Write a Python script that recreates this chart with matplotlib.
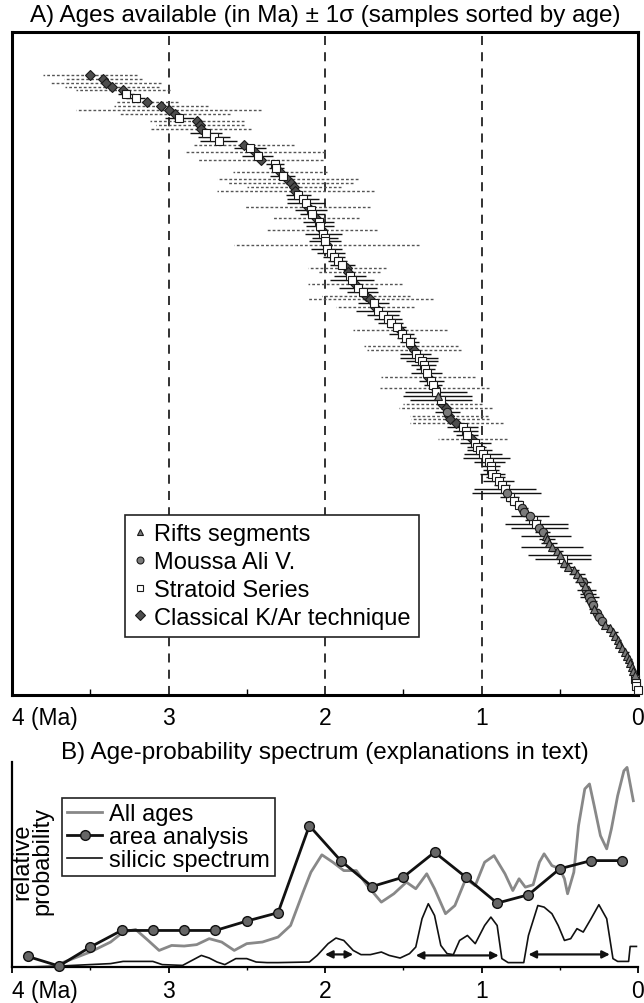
import numpy as np
import matplotlib
matplotlib.use("Agg")
import matplotlib.pyplot as plt
from matplotlib.lines import Line2D

plt.rcParams['font.family'] = ['Liberation Sans', 'DejaVu Sans']

# ---- panel A : sample ages (Ma), 1 sigma, dataset code, oldest first ----
ages = [
    3.50, 3.42, 3.40, 3.36, 3.29, 3.27, 3.21, 3.14, 3.05, 3.00,
    2.96, 2.93, 2.82, 2.80, 2.79, 2.76, 2.71, 2.68, 2.52, 2.48,
    2.45, 2.43, 2.41, 2.32, 2.31, 2.29, 2.27, 2.24, 2.22, 2.20,
    2.19, 2.17, 2.14, 2.12, 2.11, 2.09, 2.08, 2.06, 2.04, 2.03,
    2.02, 2.01, 2.00, 2.00, 1.99, 1.99, 1.96, 1.94, 1.92, 1.89,
    1.86, 1.85, 1.84, 1.83, 1.81, 1.79, 1.76, 1.74, 1.71, 1.69,
    1.68, 1.66, 1.63, 1.60, 1.58, 1.54, 1.52, 1.51, 1.48, 1.46,
    1.45, 1.43, 1.42, 1.40, 1.38, 1.37, 1.36, 1.35, 1.34, 1.32,
    1.31, 1.30, 1.29, 1.28, 1.26, 1.25, 1.23, 1.22, 1.21, 1.20,
    1.16, 1.12, 1.10, 1.09, 1.06, 1.04, 1.03, 1.01, 0.99, 0.97,
    0.95, 0.94, 0.94, 0.93, 0.91, 0.89, 0.87, 0.85, 0.84, 0.82,
    0.79, 0.76, 0.74, 0.73, 0.69, 0.67, 0.65, 0.63, 0.61, 0.59,
    0.58, 0.57, 0.55, 0.52, 0.50, 0.48, 0.47, 0.45, 0.41, 0.39,
    0.37, 0.35, 0.34, 0.33, 0.32, 0.31, 0.30, 0.29, 0.28, 0.26,
    0.25, 0.23, 0.21, 0.18, 0.16, 0.15, 0.13, 0.12, 0.10, 0.08,
    0.07, 0.06, 0.05, 0.04, 0.03, 0.02, 0.02, 0.01, 0.01, 0.00,
]
errs = [
    0.30, 0.25, 0.35, 0.30, 0.30, 0.05, 0.06, 0.20, 0.30, 0.59,
    0.35, 0.09, 0.30, 0.28, 0.32, 0.10, 0.10, 0.12, 0.32, 0.10,
    0.45, 0.10, 0.40, 0.06, 0.05, 0.30, 0.08, 0.45, 0.40, 0.30,
    0.50, 0.08, 0.10, 0.12, 0.40, 0.10, 0.08, 0.28, 0.10, 0.09,
    0.35, 0.12, 0.08, 0.10, 0.59, 0.10, 0.09, 0.07, 0.06, 0.08,
    0.25, 0.20, 0.10, 0.14, 0.30, 0.12, 0.10, 0.28, 0.40, 0.10,
    0.25, 0.14, 0.10, 0.09, 0.08, 0.06, 0.30, 0.08, 0.06, 0.06,
    0.30, 0.30, 0.10, 0.12, 0.10, 0.08, 0.06, 0.10, 0.30, 0.08,
    0.06, 0.35, 0.20, 0.22, 0.20, 0.25, 0.30, 0.08, 0.25, 0.25,
    0.30, 0.10, 0.08, 0.07, 0.22, 0.10, 0.06, 0.08, 0.12, 0.15,
    0.10, 0.06, 0.05, 0.08, 0.06, 0.10, 0.05, 0.20, 0.22, 0.06,
    0.05, 0.04, 0.04, 0.03, 0.12, 0.05, 0.20, 0.18, 0.05, 0.16,
    0.05, 0.05, 0.20, 0.04, 0.20, 0.18, 0.05, 0.04, 0.03, 0.05,
    0.04, 0.05, 0.03, 0.06, 0.05, 0.06, 0.04, 0.03, 0.03, 0.02,
    0.03, 0.02, 0.03, 0.02, 0.03, 0.02, 0.02, 0.02, 0.02, 0.02,
    0.02, 0.02, 0.01, 0.01, 0.01, 0.01, 0.01, 0.01, 0.01, 0.01,
]
# T = rifts segments, C = Moussa Ali, S = Stratoid, D = classical K/Ar
types = list(
    "DDDDDSSDDD" "DSDDDSSSDS" "DSDSSDSDDD" "DSSSDSSDSS"
    "DSSSDSSSSS" "DDSSDSSDDS" "DSSSSSDSSS" "DDSSSSSSDS"
    "SDSTSDDCDD" "DSSSDSSSSS" "SSSSSSSSCS" "SSCCCSSCCT"
    "TTTTTSTTTT" "TCTCCCCCTC" "CCTTTTTTTT" "TTTTTTSSSS"
)

series = {
    'T': ('Rifts segments', '^', '#7a7a7a', 6.0),
    'C': ('Moussa Ali V.', 'o', '#7a7a7a', 6.0),
    'S': ('Stratoid Series', 's', 'white', 6.0),
    'D': ('Classical K/Ar technique', 'D', '#4d4d4d', 5.5),
}

# ---- panel B : spectra (Ma, relative probability) ----
area_age = [3.9, 3.7, 3.5, 3.3, 3.1, 2.9, 2.7, 2.5, 2.3, 2.1,
            1.9, 1.7, 1.5, 1.3, 1.1, 0.9, 0.7, 0.5, 0.3, 0.1]
area_prob = [0.053, 0.005, 0.10, 0.183, 0.183, 0.183, 0.183, 0.23, 0.272, 0.708,
             0.533, 0.403, 0.45, 0.575, 0.45, 0.32, 0.362, 0.492, 0.533, 0.533]

all_age = [3.71, 3.50, 3.37, 3.29, 3.21, 3.13, 3.06, 2.98, 2.90, 2.82,
           2.74, 2.66, 2.58, 2.50, 2.40, 2.30, 2.22, 2.14, 2.09, 2.02,
           1.95, 1.88, 1.80, 1.73, 1.64, 1.56, 1.48, 1.42, 1.35, 1.30,
           1.23, 1.17, 1.10, 1.04, 0.98, 0.92, 0.85, 0.80, 0.76, 0.72,
           0.67, 0.63, 0.60, 0.55, 0.50, 0.47, 0.45, 0.41, 0.38, 0.34,
           0.31, 0.28, 0.24, 0.20, 0.17, 0.13, 0.09, 0.07, 0.03]
all_prob = [0.012, 0.075, 0.125, 0.175, 0.188, 0.133, 0.083, 0.108, 0.105, 0.112,
            0.142, 0.125, 0.083, 0.117, 0.125, 0.150, 0.208, 0.375, 0.475, 0.562,
            0.525, 0.483, 0.483, 0.408, 0.325, 0.367, 0.425, 0.392, 0.467, 0.392,
            0.267, 0.308, 0.442, 0.408, 0.525, 0.558, 0.467, 0.383, 0.442, 0.400,
            0.412, 0.525, 0.567, 0.508, 0.492, 0.442, 0.367, 0.475, 0.708, 0.892,
            0.917, 0.808, 0.658, 0.592, 0.692, 0.858, 0.983, 1.000, 0.833]

sil_age = [3.90, 3.69, 3.37, 3.29, 3.10, 3.04, 2.91, 2.85, 2.79, 2.74,
           2.69, 2.64, 2.57, 2.50, 2.44, 2.37, 2.30, 2.10, 2.05, 1.98,
           1.93, 1.88, 1.82, 1.77, 1.71, 1.64, 1.59, 1.52, 1.46, 1.42,
           1.38, 1.34, 1.30, 1.26, 1.22, 1.18, 1.14, 1.09, 1.04, 0.98,
           0.94, 0.90, 0.87, 0.83, 0.73, 0.70, 0.64, 0.60, 0.55, 0.51,
           0.47, 0.43, 0.39, 0.35, 0.30, 0.25, 0.20, 0.16, 0.13, 0.06,
           0.05, 0.01]
sil_prob = [0.0, 0.005, 0.017, 0.028, 0.028, 0.012, 0.008, 0.033, 0.058, 0.045,
            0.025, 0.012, 0.042, 0.042, 0.025, 0.022, 0.022, 0.025, 0.058, 0.117,
            0.145, 0.133, 0.083, 0.062, 0.062, 0.075, 0.058, 0.045, 0.067, 0.100,
            0.242, 0.317, 0.258, 0.108, 0.067, 0.062, 0.133, 0.158, 0.117, 0.208,
            0.250, 0.208, 0.042, 0.022, 0.022, 0.158, 0.308, 0.300, 0.267, 0.208,
            0.133, 0.142, 0.192, 0.175, 0.242, 0.312, 0.242, 0.042, 0.028, 0.028,
            0.103, 0.103]

# silicic pulses marked by double arrows: (start, end, height)
pulses = [(2.00, 1.82, 0.063), (1.42, 0.89, 0.058), (0.70, 0.18, 0.063)]

FS_TITLE = 17.5
FS_LEG = 17
FS_TICK = 16.5

fig = plt.figure(figsize=(6.44, 10.04), dpi=100)
ax1 = fig.add_axes([12 / 644, 1 - 696 / 1004, 626 / 644, 663 / 1004])
ax2 = fig.add_axes([12 / 644, 1 - 968 / 1004, 626 / 644, 205 / 1004])

# ---------------- panel A ----------------
ages = np.array(ages)
errs = np.array(errs)
types = np.array(types)
n = len(ages)
ypos = np.arange(n)[::-1]

for x in [3, 2, 1]:
    ax1.axvline(x, color='#222222', lw=1.3, ls=(0, (5, 4)), zorder=1)

kar = types == 'D'
ax1.hlines(ypos[kar], ages[kar] - errs[kar], ages[kar] + errs[kar],
           colors='#555555', linestyles=(0, (2, 1.5)), lw=1.0, zorder=2)
ax1.hlines(ypos[~kar], ages[~kar] - errs[~kar], ages[~kar] + errs[~kar],
           colors='#111111', lw=1.0, zorder=3)

for code in ['D', 'S', 'C', 'T']:
    label, mk, fc, ms = series[code]
    m = types == code
    ax1.plot(ages[m], ypos[m], ls='none', marker=mk, ms=ms, mfc=fc,
             mec='#1a1a1a', mew=0.8, zorder=4, clip_on=False)

ax1.set_xlim(4, 0)
ax1.set_ylim(-1.2, n - 1 + 11.1)
ax1.set_yticks([])
ax1.set_xticks([4, 3, 2, 1, 0])
ax1.set_xticklabels(['4 (Ma)', '3', '2', '1', '0'], fontsize=FS_TICK)
ax1.get_xticklabels()[0].set_horizontalalignment('left')
ax1.set_xticks([3.5, 2.5, 1.5, 0.5], minor=True)
ax1.tick_params(axis='x', which='major', length=0, pad=8)
ax1.tick_params(axis='x', which='minor', direction='in', length=4, width=1)
for s in ax1.spines.values():
    s.set_linewidth(2.2)

handles = []
for code in ['T', 'C', 'S', 'D']:
    label, mk, fc, ms = series[code]
    handles.append(Line2D([], [], ls='none', marker=mk, ms=5, mfc=fc,
                          mec='#1a1a1a', mew=0.8, label=label))
leg = ax1.legend(handles=handles, loc='lower left', bbox_to_anchor=(0.18, 0.0875),
                 fontsize=FS_LEG, frameon=True, fancybox=False, framealpha=1,
                 edgecolor='#222222', handlelength=0.6, handletextpad=0.3,
                 labelspacing=0.25, borderpad=0.35, borderaxespad=0)
leg.get_frame().set_linewidth(1.2)

fig.text(325 / 644, 1 - 16 / 1004,
         'A) Ages available (in Ma) \u00b1 1\u03c3 (samples sorted by age)',
         ha='center', va='center', fontsize=FS_TITLE)

# ---------------- panel B ----------------
ax2.plot(all_age, all_prob, color='#888888', lw=2.0, zorder=2, label='All ages')
ax2.plot(area_age, area_prob, color='#111111', lw=2.0, marker='o', ms=7,
         mfc='#666666', mec='#111111', mew=1.0, zorder=4, clip_on=False,
         label='area analysis')
ax2.plot(sil_age, sil_prob, color='#111111', lw=1.2, zorder=3,
         label='silicic spectrum')

for x0, x1, h in pulses:
    ax2.annotate('', xy=(x1, h), xytext=(x0, h),
                 arrowprops=dict(arrowstyle='<|-|>', color='#111111', lw=1.6,
                                 mutation_scale=11, shrinkA=0, shrinkB=0))

ax2.set_xlim(4, 0)
ax2.set_ylim(0, 1.027)
ax2.set_yticks([])
ax2.set_xticks([4, 3, 2, 1, 0])
ax2.set_xticklabels(['4 (Ma)', '3', '2', '1', '0'], fontsize=FS_TICK)
ax2.get_xticklabels()[0].set_horizontalalignment('left')
ax2.set_xticks([3.5, 2.5, 1.5, 0.5], minor=True)
ax2.tick_params(axis='x', which='major', direction='out', length=4, width=1.3, pad=5)
ax2.tick_params(axis='x', which='minor', direction='out', length=2, width=1)
ax2.spines['top'].set_visible(False)
ax2.spines['right'].set_visible(False)
ax2.spines['left'].set_linewidth(1.6)
ax2.spines['bottom'].set_linewidth(1.6)

leg2 = ax2.legend(loc='lower left', bbox_to_anchor=(0.08, 0.444), fontsize=FS_LEG,
                  frameon=True, fancybox=False, framealpha=1, edgecolor='#222222',
                  handlelength=1.5, handletextpad=0.3, labelspacing=0.05,
                  borderpad=0.2, borderaxespad=0)
leg2.get_frame().set_linewidth(1.2)

ax2.text(0.033, 0.52, 'relative\nprobability', transform=ax2.transAxes,
         rotation=90, ha='center', va='center', fontsize=FS_LEG, linespacing=0.9)

fig.text(325 / 644, 1 - 753 / 1004,
         'B) Age-probability spectrum (explanations in text)',
         ha='center', va='center', fontsize=FS_TITLE)

fig.savefig('out.png', dpi=100)
